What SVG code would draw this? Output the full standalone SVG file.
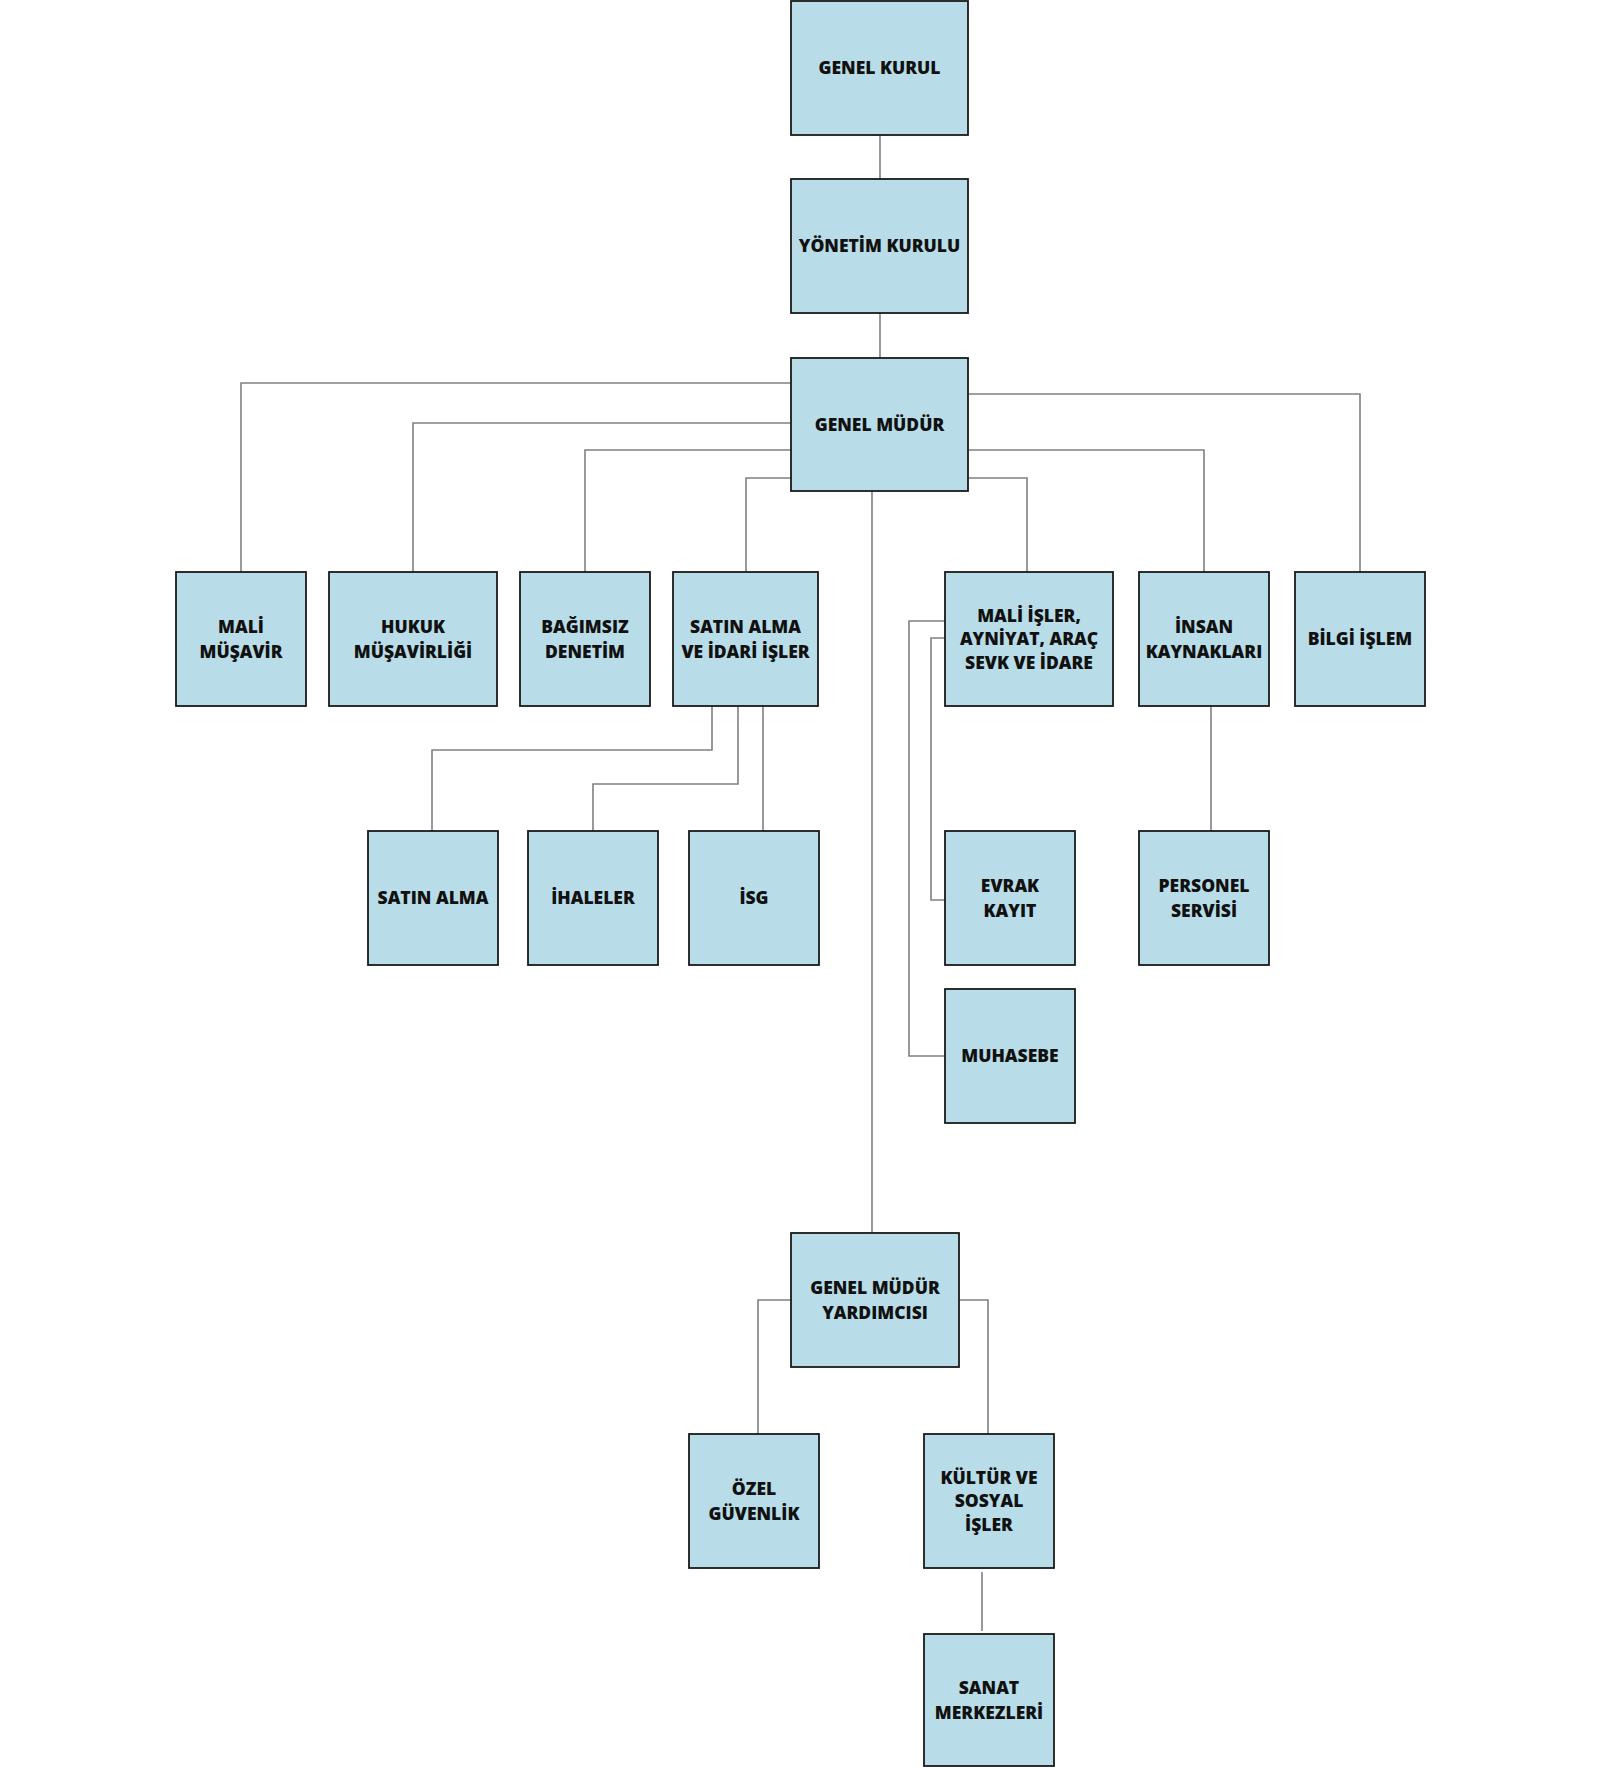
<svg xmlns="http://www.w3.org/2000/svg" width="1600" height="1767" viewBox="0 0 1600 1767">
<style>
.box{fill:#b8dde8;stroke:#1a1a1a;stroke-width:1.8}
.lbl{font-family:"Open Sans","Noto Sans","Liberation Sans",sans-serif;font-weight:800;font-size:17.5px;fill:#111;text-anchor:middle}
.con{fill:none;stroke:#808080;stroke-width:1.6}
</style>
<rect width="1600" height="1767" fill="#ffffff"/>
<g id="connectors">
<path class="con" d="M880,135 V179"/>
<path class="con" d="M880,313 V358"/>
<path class="con" d="M791,383 H241 V572"/>
<path class="con" d="M791,423 H413 V572"/>
<path class="con" d="M791,450 H585 V572"/>
<path class="con" d="M791,478 H746 V572"/>
<path class="con" d="M968,394 H1360 V572"/>
<path class="con" d="M968,450 H1204 V572"/>
<path class="con" d="M968,478 H1027 V572"/>
<path class="con" d="M872,491 V1233"/>
<path class="con" d="M712,706 V750 H432 V831"/>
<path class="con" d="M738,706 V784 H593 V831"/>
<path class="con" d="M763,706 V831"/>
<path class="con" d="M945,621 H909 V1056 H945"/>
<path class="con" d="M945,638 H931 V900 H945"/>
<path class="con" d="M1211,706 V831"/>
<path class="con" d="M791,1300 H758 V1434"/>
<path class="con" d="M959,1300 H988 V1434"/>
<path class="con" d="M982,1572 V1631"/>
</g>
<g id="genel-kurul"><rect class="box" x="791" y="1" width="177" height="134"/><text class="lbl" x="879.5" y="74">GENEL KURUL</text></g>
<g id="yonetim-kurulu"><rect class="box" x="791" y="179" width="177" height="134"/><text class="lbl" x="879.5" y="252">YÖNETİM KURULU</text></g>
<g id="genel-mudur"><rect class="box" x="791" y="358" width="177" height="133"/><text class="lbl" x="879.5" y="430.5">GENEL MÜDÜR</text></g>
<g id="mali-musavir"><rect class="box" x="176" y="572" width="130" height="134"/><text class="lbl" x="241" y="632.5">MALİ</text><text class="lbl" x="241" y="657.5">MÜŞAVİR</text></g>
<g id="hukuk"><rect class="box" x="329" y="572" width="168" height="134"/><text class="lbl" x="413" y="632.5">HUKUK</text><text class="lbl" x="413" y="657.5">MÜŞAVİRLİĞİ</text></g>
<g id="bagimsiz-denetim"><rect class="box" x="520" y="572" width="130" height="134"/><text class="lbl" x="585" y="632.5">BAĞIMSIZ</text><text class="lbl" x="585" y="657.5">DENETİM</text></g>
<g id="satin-alma-idari"><rect class="box" x="673" y="572" width="145" height="134"/><text class="lbl" x="745.5" y="632.5">SATIN ALMA</text><text class="lbl" x="745.5" y="657.5">VE İDARİ İŞLER</text></g>
<g id="mali-isler"><rect class="box" x="945" y="572" width="168" height="134"/><text class="lbl" x="1029" y="621.5">MALİ İŞLER,</text><text class="lbl" x="1029" y="645">AYNİYAT, ARAÇ</text><text class="lbl" x="1029" y="668.5">SEVK VE İDARE</text></g>
<g id="insan-kaynaklari"><rect class="box" x="1139" y="572" width="130" height="134"/><text class="lbl" x="1204" y="632.5">İNSAN</text><text class="lbl" x="1204" y="657.5">KAYNAKLARI</text></g>
<g id="bilgi-islem"><rect class="box" x="1295" y="572" width="130" height="134"/><text class="lbl" x="1360" y="645">BİLGİ İŞLEM</text></g>
<g id="satin-alma"><rect class="box" x="368" y="831" width="130" height="134"/><text class="lbl" x="433" y="904">SATIN ALMA</text></g>
<g id="ihaleler"><rect class="box" x="528" y="831" width="130" height="134"/><text class="lbl" x="593" y="904">İHALELER</text></g>
<g id="isg"><rect class="box" x="689" y="831" width="130" height="134"/><text class="lbl" x="754" y="904">İSG</text></g>
<g id="evrak-kayit"><rect class="box" x="945" y="831" width="130" height="134"/><text class="lbl" x="1010" y="891.5">EVRAK</text><text class="lbl" x="1010" y="916.5">KAYIT</text></g>
<g id="personel-servisi"><rect class="box" x="1139" y="831" width="130" height="134"/><text class="lbl" x="1204" y="891.5">PERSONEL</text><text class="lbl" x="1204" y="916.5">SERVİSİ</text></g>
<g id="muhasebe"><rect class="box" x="945" y="989" width="130" height="134"/><text class="lbl" x="1010" y="1062">MUHASEBE</text></g>
<g id="genel-mudur-yardimcisi"><rect class="box" x="791" y="1233" width="168" height="134"/><text class="lbl" x="875" y="1293.5">GENEL MÜDÜR</text><text class="lbl" x="875" y="1318.5">YARDIMCISI</text></g>
<g id="ozel-guvenlik"><rect class="box" x="689" y="1434" width="130" height="134"/><text class="lbl" x="754" y="1494.5">ÖZEL</text><text class="lbl" x="754" y="1519.5">GÜVENLİK</text></g>
<g id="kultur-sosyal"><rect class="box" x="924" y="1434" width="130" height="134"/><text class="lbl" x="989" y="1483.5">KÜLTÜR VE</text><text class="lbl" x="989" y="1507">SOSYAL</text><text class="lbl" x="989" y="1530.5">İŞLER</text></g>
<g id="sanat-merkezleri"><rect class="box" x="924" y="1634" width="130" height="132"/><text class="lbl" x="989" y="1693.5">SANAT</text><text class="lbl" x="989" y="1718.5">MERKEZLERİ</text></g>
</svg>
